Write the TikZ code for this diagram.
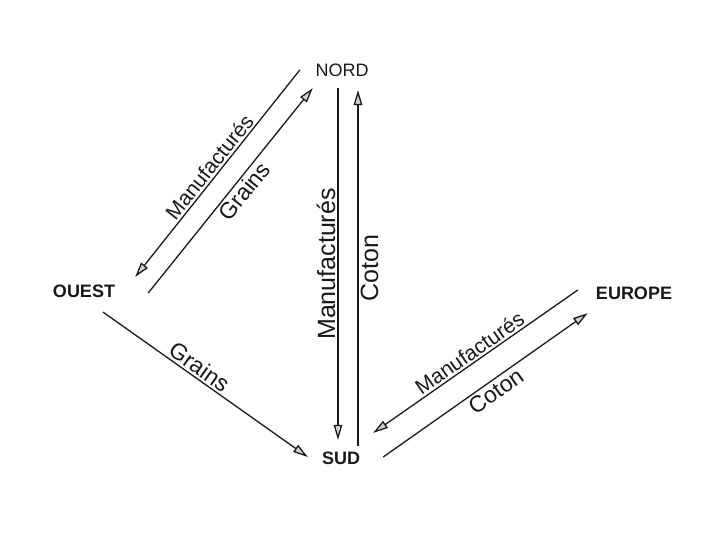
\documentclass[tikz,border=0pt]{standalone}
\usepackage{fontspec}
\setmainfont{Liberation Sans}
\usetikzlibrary{positioning,arrows.meta}

\begin{document}
\begin{tikzpicture}[x=1pt, y=-1pt,
  region/.style={inner sep=2pt, text=black!90, font=\fontsize{18}{20}\selectfont\bfseries},
  trade/.style={-{Triangle[length=15pt,width=8.5pt,fill=gray!35]}, line width=1.3pt, draw=black!90},
  good/.style={midway, sloped, inner sep=2pt, text=black!90, font=\fontsize{23}{26}\selectfont},
  longgood/.style={good, font=\fontsize{21}{24}\selectfont},
  upgood/.style={midway, rotate=90, inner sep=2pt, text=black!90, font=\fontsize{25}{28}\selectfont}
]
\useasboundingbox (0,0) rectangle (720,540);

\node[region, font=\fontsize{18}{20}\selectfont] (nord) at (342,70) {NORD};
\node[region] (ouest) at (84,291) {OUEST};
\node[region] (sud) at (341,458) {SUD};
\node[region] (europe) at (634,293) {EUROPE};

% nord <-> ouest
\draw[trade] ([shift={(-13.5,0)}]nord.west) -- node[longgood, above] {Manufacturés} ([shift={(18,-5.5)}]ouest.north east);
\draw[trade] ([shift={(31,2)}]ouest.east) -- node[good, below, pos=0.53] {Grains} ([shift={(-0.5,9.5)}]nord.south west);

% nord <-> sud
\draw[trade] ([shift={(-4,9.5)}]nord.south) -- node[upgood, anchor=south] {Manufacturés} ([shift={(-3,-9.5)}]sud.north);
\draw[trade] ([shift={(17,-3.5)}]sud.north) -- node[upgood, anchor=north] {Coton} ([shift={(16,11.5)}]nord.south);

% ouest -> sud
\draw[trade] ([shift={(19,12.5)}]ouest.south) -- node[good, above, pos=0.44] {Grains} ([shift={(-12,-1)}]sud.west);

% europe <-> sud
\draw[trade] ([shift={(-16,-3)}]europe.west) -- node[longgood, above] {Manufacturés} ([shift={(11,-16.5)}]sud.north east);
\draw[trade] ([shift={(21,-1)}]sud.east) -- node[good, below, pos=0.52] {Coton} ([shift={(-6,11.5)}]europe.south west);
\end{tikzpicture}
\end{document}
